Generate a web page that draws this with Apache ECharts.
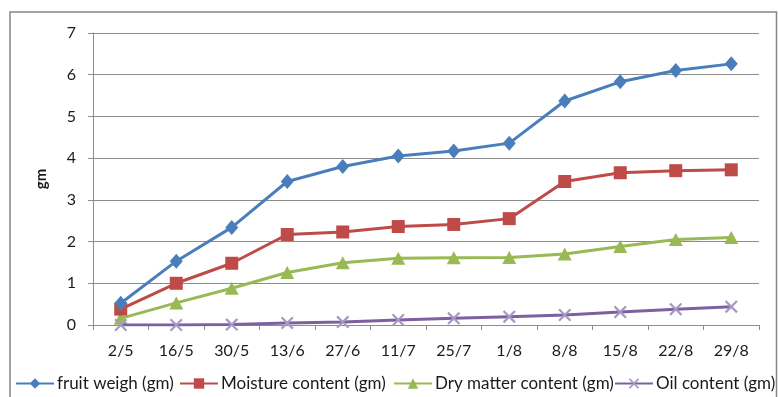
<!DOCTYPE html>
<html>
<head>
<meta charset="utf-8">
<script src="https://cdn.jsdelivr.net/npm/echarts@6/dist/echarts.min.js"></script>
<style>
  html, body { margin: 0; padding: 0; background: #fff; }
  #chart { width: 778px; height: 397px; }
</style>
</head>
<body>
<div id="chart"></div>
<script>
// Sampling dates (day/month)
const dates = ['2/5', '16/5', '30/5', '13/6', '27/6', '11/7', '25/7', '1/8', '8/8', '15/8', '22/8', '29/8'];

// Measurements in grams
const fruitWeight = [0.52, 1.53, 2.34, 3.44, 3.80, 4.05, 4.17, 4.36, 5.37, 5.83, 6.10, 6.26];
const moisture    = [0.38, 1.00, 1.48, 2.17, 2.23, 2.36, 2.41, 2.55, 3.44, 3.65, 3.70, 3.72];
const dryMatter   = [0.16, 0.53, 0.88, 1.26, 1.49, 1.60, 1.61, 1.62, 1.70, 1.88, 2.05, 2.10];
const oilContent  = [0.00, 0.00, 0.01, 0.05, 0.07, 0.12, 0.16, 0.20, 0.24, 0.31, 0.38, 0.44];

const yTicks = [0, 1, 2, 3, 4, 5, 6, 7];

const seriesNames = ['fruit weigh (gm)', 'Moisture content (gm)', 'Dry matter content (gm)', 'Oil content (gm)'];
const seriesColors = ['#4a7ebb', '#be4b48', '#98b954', '#7d60a0'];

const FONT = 'Lato';
const crossPath = 'path://M0,1.2L1.2,0L10,8.8L8.8,10Z M8.8,0L10,1.2L1.2,10L0,8.8Z';

const chart = echarts.init(document.getElementById('chart'));

function legendAt(name, left) {
  return {
    data: [name],
    left: left,
    top: 375,
    itemWidth: 38,
    itemHeight: 13,
    itemGap: 0,
    padding: 0,
    textStyle: { fontFamily: FONT, fontSize: 17, color: '#1a1a1a', padding: [0, 0, 0, -2] }
  };
}

chart.setOption({
  animation: false,
  textStyle: { fontFamily: FONT },
  graphic: [{
    type: 'rect',
    shape: { x: 10, y: 12, width: 766.5, height: 400 },
    style: { fill: 'none', stroke: '#878787', lineWidth: 1.5 },
    silent: true,
    z: -1
  }],
  legend: [
    legendAt(seriesNames[0], 15),
    legendAt(seriesNames[1], 179),
    legendAt(seriesNames[2], 393),
    legendAt(seriesNames[3], 614)
  ],
  grid: { left: 93, right: 19, top: 33, bottom: 72 },
  xAxis: {
    type: 'category',
    data: dates,
    boundaryGap: true,
    axisLine: { lineStyle: { color: '#8c8c8c', width: 1 } },
    axisTick: { show: true, length: 5, lineStyle: { color: '#8c8c8c' } },
    axisLabel: { fontFamily: FONT, fontSize: 16, color: '#1a1a1a', margin: 18 }
  },
  yAxis: {
    type: 'value',
    min: yTicks[0],
    max: yTicks[yTicks.length - 1],
    interval: 1,
    name: 'gm',
    nameLocation: 'middle',
    nameGap: 44,
    nameRotate: 90,
    nameTextStyle: { fontFamily: FONT, fontSize: 15, fontWeight: 'bold', color: '#1a1a1a' },
    axisLine: { show: true, lineStyle: { color: '#8c8c8c', width: 1 } },
    axisTick: { show: true, length: 5, lineStyle: { color: '#8c8c8c' } },
    axisLabel: { fontFamily: FONT, fontSize: 16, color: '#1a1a1a', margin: 17 },
    splitLine: { lineStyle: { color: '#8c8c8c', width: 1 } }
  },
  series: [
    {
      name: seriesNames[0], type: 'line', data: fruitWeight,
      symbol: 'diamond', symbolSize: [13, 15],
      lineStyle: { width: 3, color: seriesColors[0] },
      itemStyle: { color: seriesColors[0] }, z: 5
    },
    {
      name: seriesNames[1], type: 'line', data: moisture,
      symbol: 'rect', symbolSize: 13,
      lineStyle: { width: 3, color: seriesColors[1] },
      itemStyle: { color: seriesColors[1] }, z: 4
    },
    {
      name: seriesNames[2], type: 'line', data: dryMatter,
      symbol: 'triangle', symbolSize: [14, 13],
      lineStyle: { width: 3, color: seriesColors[2] },
      itemStyle: { color: seriesColors[2] }, z: 3
    },
    {
      name: seriesNames[3], type: 'line', data: oilContent,
      symbol: crossPath, symbolSize: 13,
      lineStyle: { width: 3, color: seriesColors[3] },
      itemStyle: { color: '#a899c4' }, z: 6
    }
  ]
});
</script>
</body>
</html>
